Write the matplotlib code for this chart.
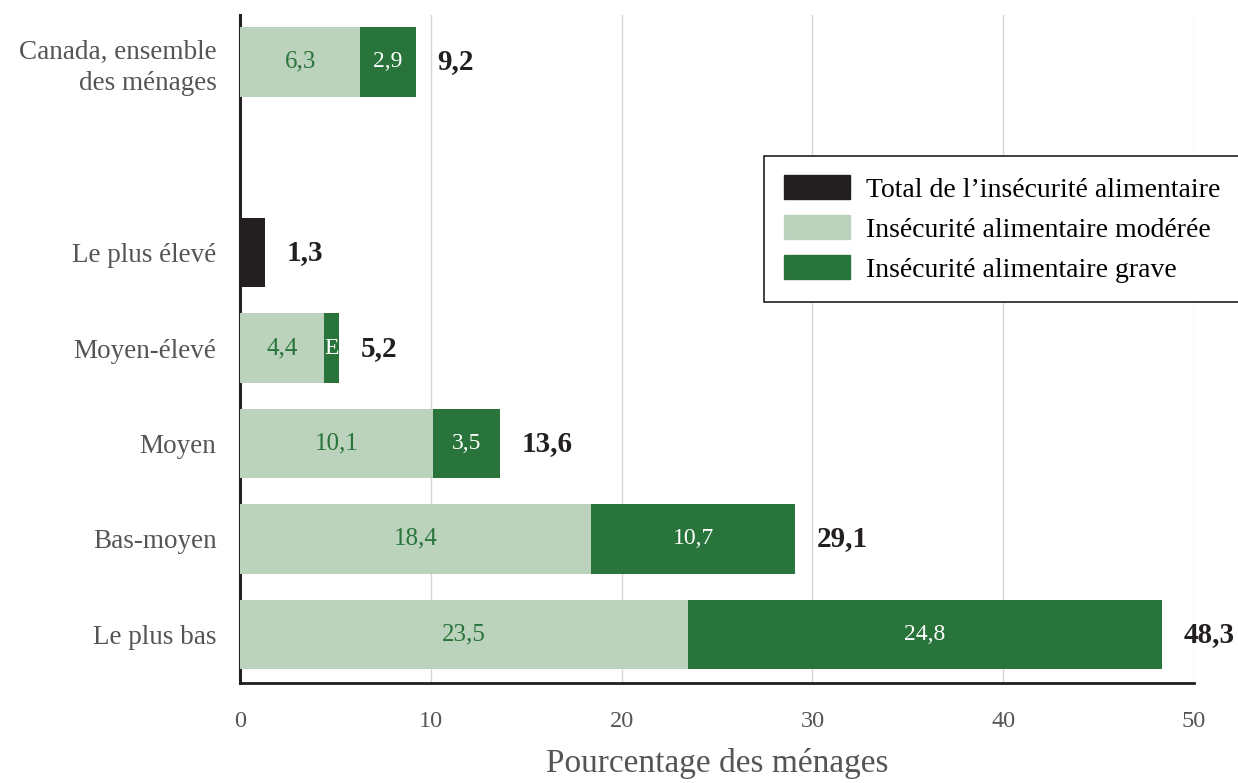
import matplotlib
matplotlib.use("Agg")
import matplotlib.pyplot as plt
from matplotlib.patches import Patch

plt.rcParams["font.family"] = ["Liberation Serif", "DejaVu Serif"]

# data
categories = ["Canada, ensemble\ndes ménages", "Le plus élevé", "Moyen-élevé",
              "Moyen", "Bas-moyen", "Le plus bas"]
ypos = [6, 4, 3, 2, 1, 0]
moderate = [6.3, 0, 4.4, 10.1, 18.4, 23.5]
severe = [2.9, 0, 0.8, 3.5, 10.7, 24.8]
severe_labels = ["2,9", "", "E", "3,5", "10,7", "24,8"]
total_only = [0, 1.3, 0, 0, 0, 0]
totals = [9.2, 1.3, 5.2, 13.6, 29.1, 48.3]

BLACK = "#231f20"
LIGHT = "#bbd2bd"
DARK = "#29743a"
GREY = "#555555"

fig = plt.figure(figsize=(12.38, 7.83), dpi=100)
ax = fig.add_axes([0.1939, 0.1277, 0.7706, 0.8531])

h = 0.73
ax.barh(ypos, total_only, height=h, color=BLACK, zorder=3)
ax.barh(ypos, moderate, height=h, color=LIGHT, zorder=3)
ax.barh(ypos, severe, left=moderate, height=h, color=DARK, zorder=3)

for y, m, s, sl, t in zip(ypos, moderate, severe, severe_labels, totals):
    if m > 0:
        ax.text(m / 2, y, f"{m:.1f}".replace(".", ","), ha="center", va="center",
                color=DARK, fontsize=18, zorder=4)
    if s > 0:
        ax.text(m + s / 2, y, sl, ha="center", va="center", color="white",
                fontsize=17, zorder=4)
    ax.text(t + 1.15, y, f"{t:.1f}".replace(".", ","), ha="left", va="center",
            color=BLACK, fontsize=21, fontweight="bold", zorder=4)

ax.set_xlim(0, 50)
ax.set_ylim(-0.51, 6.49)
ax.set_yticks(ypos, categories, fontsize=19.5, color=GREY, linespacing=1.35)
ax.set_xticks(range(0, 51, 10))
ax.tick_params(axis="x", length=0, pad=20, labelsize=17.5, labelcolor=GREY)
ax.tick_params(axis="y", length=0, pad=17)
for lab in ax.get_yticklabels():
    lab.set_horizontalalignment("right")
ax.xaxis.grid(True, color="#d4d4d4", lw=1, zorder=0)
ax.set_axisbelow(True)
ax.spines[["top", "right"]].set_visible(False)
ax.spines["left"].set_linewidth(2.2)
ax.spines["bottom"].set_linewidth(2)
ax.spines["left"].set_color(BLACK)
ax.spines["bottom"].set_color(BLACK)
ax.set_xlabel("Pourcentage des ménages", fontsize=24, color=GREY, labelpad=12)

handles = [Patch(color=BLACK, label="Total de l\u2019insécurité alimentaire"),
           Patch(color=LIGHT, label="Insécurité alimentaire modérée"),
           Patch(color=DARK, label="Insécurité alimentaire grave")]
leg = ax.legend(handles=handles, loc="upper left", bbox_to_anchor=(0.535, 0.81),
                fontsize=20, fancybox=False, edgecolor=BLACK, framealpha=1,
                handlelength=2.4, handleheight=0.95, handletextpad=0.55,
                labelspacing=0.45, borderpad=0.7)
leg.get_frame().set_linewidth(1.2)

fig.savefig("out.png", dpi=100)
